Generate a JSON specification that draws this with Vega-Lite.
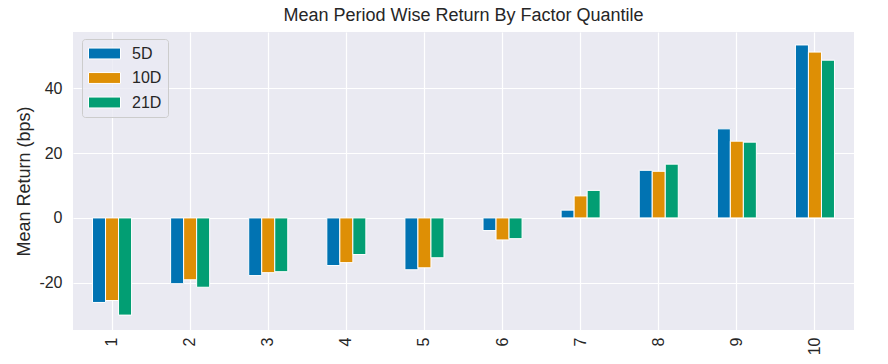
{
  "$schema": "https://vega.github.io/schema/vega-lite/v6.json",
  "width": 781,
  "height": 298,
  "autosize": {"type": "none"},
  "padding": {"left": 73, "top": 32, "right": 34, "bottom": 34},
  "background": "white",
  "config": {
    "font": "Liberation Sans",
    "view": {"fill": "#EAEAF2", "stroke": null},
    "axis": {"domain": false, "ticks": false, "gridColor": "white", "gridWidth": 1.2, "labelColor": "#262626", "titleColor": "#262626", "labelFont": "Liberation Sans", "titleFont": "Liberation Sans"}
  },
  "title": {"text": "Mean Period Wise Return By Factor Quantile", "fontSize": 18, "fontWeight": "normal", "color": "#262626", "offset": 7, "font": "Liberation Sans"},
  "data": {"values": [
    {"q": 1, "period": "5D", "value": -26.1}, {"q": 1, "period": "10D", "value": -25.5}, {"q": 1, "period": "21D", "value": -30.0},
    {"q": 2, "period": "5D", "value": -20.3}, {"q": 2, "period": "10D", "value": -19.1}, {"q": 2, "period": "21D", "value": -21.4},
    {"q": 3, "period": "5D", "value": -17.8}, {"q": 3, "period": "10D", "value": -16.9}, {"q": 3, "period": "21D", "value": -16.6},
    {"q": 4, "period": "5D", "value": -14.7}, {"q": 4, "period": "10D", "value": -13.8}, {"q": 4, "period": "21D", "value": -11.3},
    {"q": 5, "period": "5D", "value": -16.0}, {"q": 5, "period": "10D", "value": -15.4}, {"q": 5, "period": "21D", "value": -12.3},
    {"q": 6, "period": "5D", "value": -3.9}, {"q": 6, "period": "10D", "value": -6.8}, {"q": 6, "period": "21D", "value": -6.4},
    {"q": 7, "period": "5D", "value": 2.4}, {"q": 7, "period": "10D", "value": 6.8}, {"q": 7, "period": "21D", "value": 8.5},
    {"q": 8, "period": "5D", "value": 14.7}, {"q": 8, "period": "10D", "value": 14.4}, {"q": 8, "period": "21D", "value": 16.6},
    {"q": 9, "period": "5D", "value": 27.5}, {"q": 9, "period": "10D", "value": 23.7}, {"q": 9, "period": "21D", "value": 23.4},
    {"q": 10, "period": "5D", "value": 53.4}, {"q": 10, "period": "10D", "value": 51.2}, {"q": 10, "period": "21D", "value": 48.7}
  ]},
  "mark": {"type": "bar", "stroke": "white", "strokeWidth": 1},
  "encoding": {
    "x": {"field": "q", "type": "ordinal", "title": null,
      "scale": {"paddingInner": 0, "paddingOuter": 0},
      "axis": {"labelAngle": -90, "labelFontSize": 16, "labelPadding": 7, "bandPosition": 0.5, "grid": true, "labelAlign": "right", "labelBaseline": "middle"}},
    "xOffset": {"field": "period", "type": "nominal", "sort": ["5D", "10D", "21D"],
      "scale": {"paddingInner": 0, "paddingOuter": 0, "range": [19.52, 58.57]}},
    "y": {"field": "value", "type": "quantitative", "title": "Mean Return (bps)",
      "scale": {"domain": [-34.6, 57.4], "nice": false, "zero": false},
      "axis": {"values": [-20, 0, 20, 40], "labelExpr": "replace(datum.label, '\u2212', '-')", "labelFontSize": 16, "titleFontSize": 18, "titleFontWeight": "normal", "labelPadding": 11, "titlePadding": 5}},
    "color": {"field": "period", "type": "nominal", "sort": ["5D", "10D", "21D"],
      "scale": {"domain": ["5D", "10D", "21D"], "range": ["#0173B2", "#DE8F05", "#029E73"]},
      "legend": {"title": null, "orient": "none", "legendX": 9, "legendY": 7,
        "symbolType": "M-1,-0.68H3V0.68H-1Z", "symbolSize": 256, "symbolStrokeColor": "white", "symbolStrokeWidth": 1, "symbolOpacity": 1,
        "labelFontSize": 16, "labelColor": "#262626", "labelOffset": 27, "rowPadding": 7.5,
        "fillColor": "rgba(234,234,242,0.8)", "strokeColor": "#CCCCCC", "cornerRadius": 3, "padding": 6}}
  }
}
